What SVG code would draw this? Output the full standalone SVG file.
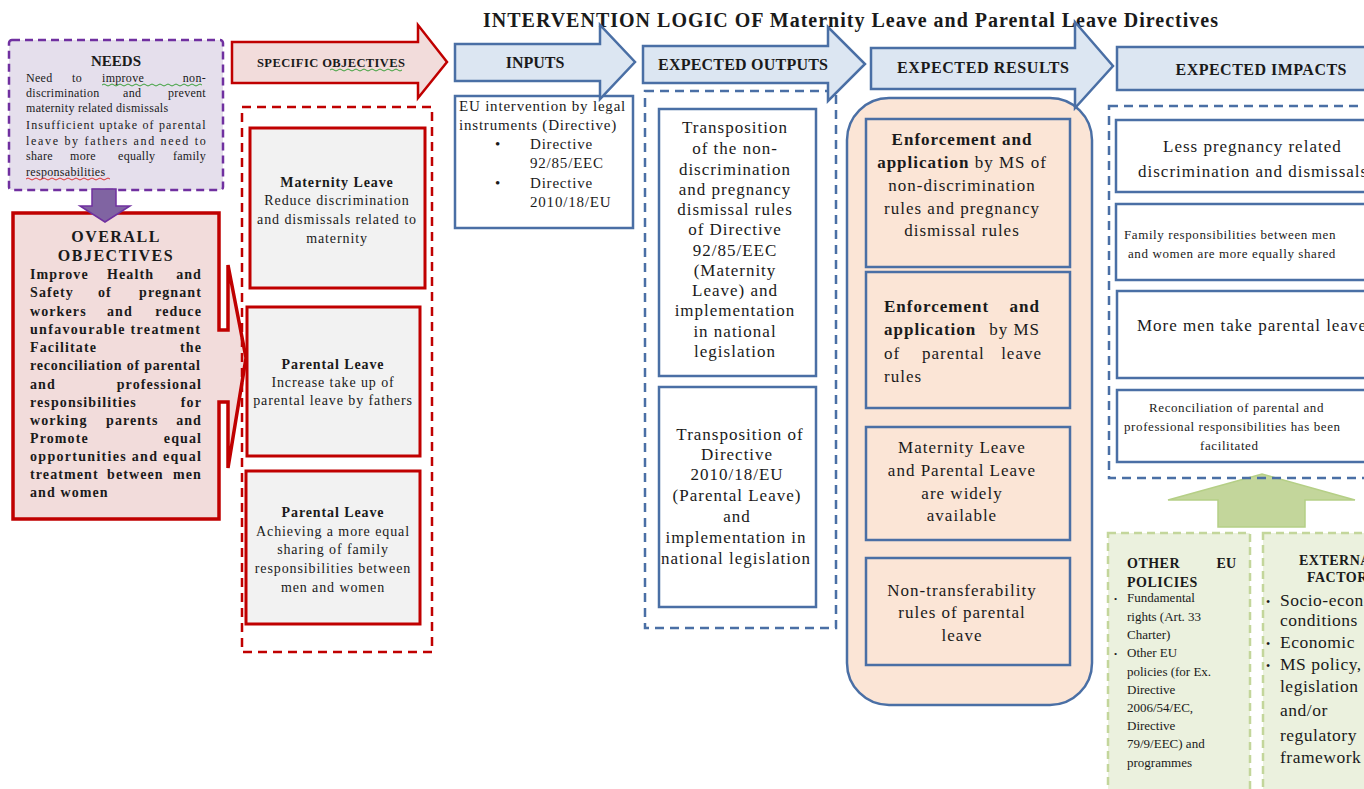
<svg xmlns="http://www.w3.org/2000/svg" width="1364" height="789" viewBox="0 0 1364 789">
<defs>
<style>
text{font-family:"Liberation Serif","Times New Roman",serif;fill:#1a1a1a}
.b{font-weight:bold}
.m{text-anchor:middle}
.e{text-anchor:end}
.needs{font-size:12px;letter-spacing:0.3px}
.ov{font-size:14px;font-weight:bold;letter-spacing:1.1px}
.so{font-size:14px;letter-spacing:0.9px}
.t17{font-size:17px;letter-spacing:1px}
.t15{font-size:15px;letter-spacing:0.8px}
.t13{font-size:13px;letter-spacing:0.6px}
.hd{font-size:16px;font-weight:bold}
.hdarrow{fill:#dce6f2;stroke:#4a6fa5;stroke-width:2.5}
.bbox{fill:#ffffff;stroke:#4a6fa5;stroke-width:2.5}
.pbox{fill:#fbe5d6;stroke:#4a6fa5;stroke-width:2.5}
.bdash{fill:none;stroke:#4a6fa5;stroke-width:2.5;stroke-dasharray:9 6}
.rbox{fill:#f2f2f2;stroke:#c00000;stroke-width:3}
.gdash{fill:#ebf1de;stroke:#c3d69b;stroke-width:2.5;stroke-dasharray:8 5}
</style>
</defs>
<rect width="1364" height="789" fill="#ffffff"/>

<text class="b" x="483" y="27" font-size="20" textLength="735" lengthAdjust="spacing">INTERVENTION LOGIC OF Maternity Leave and Parental Leave Directives</text>

<g id="needs">
<rect x="9" y="40" width="214" height="150" rx="3" fill="#e5dfec" stroke="#7030a0" stroke-width="2.5" stroke-dasharray="8 5"/>
<text class="b m" x="116" y="66" font-size="15">NEEDS</text>
<g class="needs">
<text x="26" y="82">Need</text><text x="72" y="82">to</text><text x="102" y="82">improve</text><text class="e" x="206" y="82">non-</text>
<text x="26" y="97">discrimination</text><text x="123" y="97">and</text><text class="e" x="206" y="97">prevent</text>
<text x="26" y="112">maternity related dismissals</text>
<text x="26" y="129" textLength="180" lengthAdjust="spacing">Insufficient uptake of parental</text>
<text x="26" y="145" textLength="180" lengthAdjust="spacing">leave by fathers and need to</text>
<text x="26" y="160">share</text><text x="70" y="160">more</text><text x="118" y="160">equally</text><text class="e" x="206" y="160">family</text>
<text x="26" y="176">responsabilities</text>
</g>
<path d="M102,85 q2,-2 4,0 t4,0 t4,0 t4,0 t4,0 t4,0 t4,0 t4,0 t4,0 t4,0 t4,0 t4,0 t4,0 t4,0 t4,0 t4,0 t4,0 t4,0 t4,0 t4,0 t4,0 t4,0 t4,0 t4,0 t4,0" fill="none" stroke="#3aa03a" stroke-width="1"/>
<path d="M26,179 q2,-2 4,0 t4,0 t4,0 t4,0 t4,0 t4,0 t4,0 t4,0 t4,0 t4,0 t4,0 t4,0 t4,0 t4,0 t4,0 t4,0 t4,0 t4,0 t4,0 t4,0 t4,0" fill="none" stroke="#e03030" stroke-width="1"/>
</g>

<g id="overall">
<path d="M13,213 H219 V330 H228 V265 L246,358 L228,468 V402 H219 V519 H13 Z" fill="#f2dcdb" stroke="#c00000" stroke-width="3.5" stroke-linejoin="miter"/>
<text class="b m" x="116" y="242" font-size="16" letter-spacing="1.5">OVERALL</text>
<text class="b m" x="116" y="261" font-size="16" letter-spacing="1.5">OBJECTIVES</text>
<g class="ov">
<text x="30" y="279">Improve</text><text x="107" y="279">Health</text><text class="e" x="202" y="279">and</text>
<text x="30" y="297">Safety</text><text x="98" y="297">of</text><text class="e" x="202" y="297">pregnant</text>
<text x="30" y="316">workers</text><text x="107" y="316">and</text><text class="e" x="202" y="316">reduce</text>
<text x="30" y="334" textLength="171" lengthAdjust="spacing">unfavourable treatment</text>
<text x="30" y="352">Facilitate</text><text class="e" x="202" y="352">the</text>
<text x="30" y="370" textLength="171" lengthAdjust="spacing">reconciliation of parental</text>
<text x="30" y="389">and</text><text class="e" x="202" y="389">professional</text>
<text x="30" y="407">responsibilities</text><text class="e" x="202" y="407">for</text>
<text x="30" y="425">working</text><text x="106" y="425">parents</text><text class="e" x="202" y="425">and</text>
<text x="30" y="443">Promote</text><text class="e" x="202" y="443">equal</text>
<text x="30" y="461" textLength="172" lengthAdjust="spacing">opportunities and equal</text>
<text x="30" y="479">treatment</text><text x="107" y="479">between</text><text class="e" x="202" y="479">men</text>
<text x="30" y="497">and women</text>
</g>
</g>

<g id="connectors">
<polygon points="92,189 116,189 116,206 130,206 105,222 80,206 92,206" fill="#8064a2" stroke="#7030a0" stroke-width="1.5"/>
<polygon points="1218,527 1305,527 1305,500 1355,500 1262,474 1168,500 1218,500" fill="#c3d69b" stroke="#b5cf86" stroke-width="1.5"/>
</g>

<g id="specific-objectives">
<rect x="242" y="107" width="190" height="545" fill="none" stroke="#c00000" stroke-width="2.5" stroke-dasharray="9 6"/>
<path d="M232,42 H418 V25 L447,62 L418,98 V83 H232 Z" fill="#f2dcdb" stroke="#c00000" stroke-width="2.5"/>
<text class="b" x="257" y="67" font-size="12.5" textLength="148" lengthAdjust="spacing">SPECIFIC OBJECTIVES</text>
<path d="M330,70 q2,-2 4,0 t4,0 t4,0 t4,0 t4,0 t4,0 t4,0 t4,0 t4,0 t4,0 t4,0 t4,0 t4,0 t4,0 t4,0 t4,0 t4,0 t4,0" fill="none" stroke="#3aa03a" stroke-width="1"/>
</g>

<g id="so-maternity">
<rect class="rbox" x="250" y="128" width="175" height="160"/>
<text class="b m so" x="337" y="187">Maternity Leave</text>
<text class="m so" x="337" y="205">Reduce discrimination</text>
<text class="m so" x="337" y="224">and dismissals related to</text>
<text class="m so" x="337" y="243">maternity</text>
</g>

<g id="so-parental-1">
<rect class="rbox" x="247" y="307" width="173" height="149"/>
<text class="b m so" x="333" y="369">Parental Leave</text>
<text class="m so" x="333" y="387">Increase take up of</text>
<text class="m so" x="333" y="405">parental leave by fathers</text>
</g>

<g id="so-parental-2">
<rect class="rbox" x="246" y="471" width="174" height="153"/>
<text class="b m so" x="333" y="517">Parental Leave</text>
<text class="m so" x="333" y="536">Achieving a more equal</text>
<text class="m so" x="333" y="554">sharing of family</text>
<text class="m so" x="333" y="573">responsibilities between</text>
<text class="m so" x="333" y="592">men and women</text>
</g>

<g id="inputs">
<rect class="bbox" x="455" y="96" width="178" height="132"/>
<path class="hdarrow" d="M455,44 H600 V25 L635,62 L600,99 V81 H455 Z"/>
<text class="hd m" x="535" y="68">INPUTS</text>
<text class="t15" x="459" y="111">EU intervention by legal</text>
<text class="t15" x="459" y="130">instruments (Directive)</text>
<text class="t15" x="495" y="149">•</text><text class="t15" x="530" y="149">Directive</text>
<text class="t15" x="530" y="168">92/85/EEC</text>
<text class="t15" x="495" y="188">•</text><text class="t15" x="530" y="188">Directive</text>
<text class="t15" x="530" y="207">2010/18/EU</text>
</g>

<g id="expected-outputs">
<rect class="bdash" x="645" y="91" width="191" height="537"/>
<path class="hdarrow" d="M643,46 H828 V27 L865,64 L828,101 V83 H643 Z"/>
<text class="hd m" x="743" y="70" textLength="170" lengthAdjust="spacing">EXPECTED OUTPUTS</text>
</g>

<g id="output-1">
<rect class="bbox" x="659" y="109" width="157" height="267"/>
<g class="t17 m">
<text x="735" y="133">Transposition</text>
<text x="735" y="154">of the non-</text>
<text x="735" y="175">discrimination</text>
<text x="735" y="195">and pregnancy</text>
<text x="735" y="215">dismissal rules</text>
<text x="735" y="235">of Directive</text>
<text x="735" y="256">92/85/EEC</text>
<text x="735" y="276">(Maternity</text>
<text x="735" y="296">Leave) and</text>
<text x="735" y="316">implementation</text>
<text x="735" y="337">in national</text>
<text x="735" y="357">legislation</text>
</g>
</g>

<g id="output-2">
<rect class="bbox" x="659" y="387" width="157" height="220"/>
<g class="t17 m">
<text x="740" y="440">Transposition of</text>
<text x="737" y="460">Directive</text>
<text x="737" y="480">2010/18/EU</text>
<text x="737" y="501">(Parental Leave)</text>
<text x="737" y="522">and</text>
<text x="736" y="543">implementation in</text>
<text x="736" y="564">national legislation</text>
</g>
</g>

<g id="expected-results">
<rect class="pbox" x="847" y="98" width="245" height="607" rx="42"/>
<path class="hdarrow" d="M871,48 H1075 V22 L1113,66 L1075,108 V89 H871 Z"/>
<text class="hd m" x="983" y="73" textLength="172" lengthAdjust="spacing">EXPECTED RESULTS</text>
</g>

<g id="result-1">
<rect class="pbox" x="866" y="119" width="204" height="148"/>
<g class="t17 m">
<text class="b" x="962" y="145">Enforcement and</text>
<text x="962" y="168"><tspan class="b">application</tspan> by MS of</text>
<text x="962" y="191">non-discrimination</text>
<text x="962" y="214">rules and pregnancy</text>
<text x="962" y="236">dismissal rules</text>
</g>
</g>

<g id="result-2">
<rect class="pbox" x="866" y="272" width="204" height="136"/>
<g class="t17">
<text class="b" x="884" y="312">Enforcement</text><text class="b e" x="1040" y="312">and</text>
<text class="b" x="884" y="335">application</text><text class="e" x="1040" y="335">by MS</text>
<text x="884" y="359">of</text><text x="922" y="359">parental</text><text class="e" x="1042" y="359">leave</text>
<text x="884" y="382">rules</text>
</g>
</g>

<g id="result-3">
<rect class="pbox" x="866" y="427" width="204" height="113"/>
<g class="t17 m">
<text x="962" y="453">Maternity Leave</text>
<text x="962" y="476">and Parental Leave</text>
<text x="962" y="499">are widely</text>
<text x="962" y="521">available</text>
</g>
</g>

<g id="result-4">
<rect class="pbox" x="866" y="558" width="204" height="107"/>
<g class="t17 m">
<text x="962" y="596">Non-transferability</text>
<text x="962" y="618">rules of parental</text>
<text x="962" y="641">leave</text>
</g>
</g>

<g id="expected-impacts">
<rect class="bdash" x="1109" y="106" width="275" height="372"/>
<rect class="hdarrow" x="1117" y="47" width="270" height="43"/>
<text class="hd m" x="1261" y="75" textLength="171" lengthAdjust="spacing">EXPECTED IMPACTS</text>
</g>

<g id="impact-1">
<rect class="bbox" x="1116" y="120" width="270" height="72"/>
<text class="t17" x="1163" y="152">Less pregnancy related</text>
<text class="t17" x="1138" y="177">discrimination  and dismissals</text>
</g>

<g id="impact-2">
<rect class="bbox" x="1116" y="204" width="270" height="76"/>
<text class="t13" x="1124" y="239">Family responsibilities between men</text>
<text class="t13" x="1128" y="258">and women are more equally shared</text>
</g>

<g id="impact-3">
<rect class="bbox" x="1117" y="291" width="270" height="87"/>
<text class="t17" x="1137" y="331">More men take parental leave</text>
</g>

<g id="impact-4">
<rect class="bbox" x="1117" y="390" width="270" height="72"/>
<text class="t13" x="1149" y="412">Reconciliation of parental and</text>
<text class="t13" x="1124" y="431">professional responsibilities has been</text>
<text class="t13" x="1200" y="450">facilitated</text>
</g>

<g id="other-eu-policies">
<rect class="gdash" x="1108" y="533" width="142" height="270"/>
<text class="b" x="1127" y="568" font-size="14" letter-spacing="0.5">OTHER</text><text class="b e" x="1236" y="568" font-size="14">EU</text>
<text class="b" x="1127" y="587" font-size="14" letter-spacing="0.5">POLICIES</text>
<g font-size="13">
<text x="1114" y="602" font-size="9">•</text><text x="1127" y="602">Fundamental</text>
<text x="1127" y="621">rights (Art. 33</text>
<text x="1127" y="639">Charter)</text>
<text x="1114" y="657" font-size="9">•</text><text x="1127" y="657">Other EU</text>
<text x="1127" y="676">policies (for Ex.</text>
<text x="1127" y="694">Directive</text>
<text x="1127" y="712">2006/54/EC,</text>
<text x="1127" y="730">Directive</text>
<text x="1127" y="748">79/9/EEC) and</text>
<text x="1127" y="767">programmes</text>
</g>
</g>

<g id="external-factors">
<rect class="gdash" x="1263" y="533" width="130" height="270"/>
<text class="b" x="1299" y="565" font-size="14" letter-spacing="0.5">EXTERNAL</text>
<text class="b" x="1307" y="582" font-size="14" letter-spacing="0.5">FACTORS</text>
<g font-size="17.5" letter-spacing="0.5">
<text x="1266" y="606" font-size="12">•</text><text x="1280" y="606">Socio-economic</text>
<text x="1280" y="626">conditions</text>
<text x="1266" y="648" font-size="12">•</text><text x="1280" y="648">Economic</text>
<text x="1266" y="670" font-size="12">•</text><text x="1280" y="670">MS policy,</text>
<text x="1280" y="692">legislation</text>
<text x="1280" y="716">and/or</text>
<text x="1280" y="741">regulatory</text>
<text x="1280" y="763">framework</text>
</g>
</g>
</svg>
